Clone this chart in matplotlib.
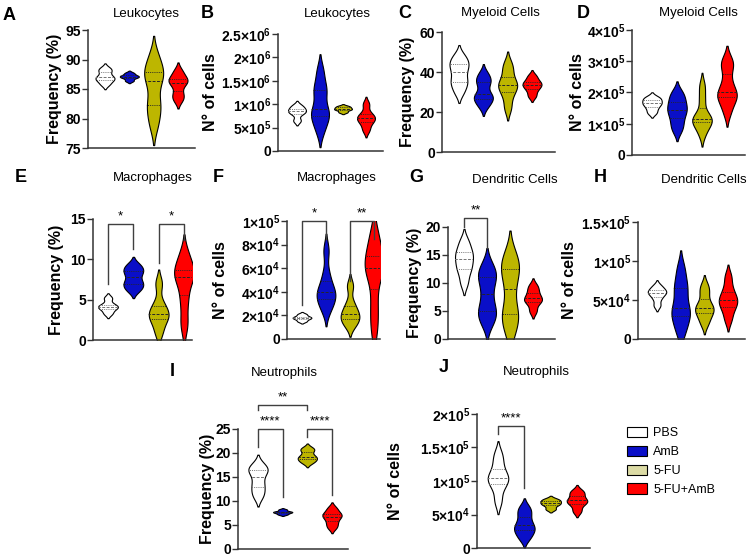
import numpy as np
import matplotlib
matplotlib.use("Agg")
import matplotlib.pyplot as plt
from matplotlib import mlab
from matplotlib.patches import Patch

plt.rcParams["font.family"] = ["Liberation Sans", "DejaVu Sans"]
plt.rcParams["mathtext.fontset"] = "custom"
plt.rcParams["mathtext.rm"] = "Liberation Sans:bold"
plt.rcParams["mathtext.default"] = "rm"

groups = ["PBS", "AmB", "5-FU", "5-FU+AmB"]
violin_colors = ["white", "#0A0FC8", "#BDB600", "#FF0000"]
legend_colors = ["white", "#0A0FC8", "#DCDBA5", "#FF0000"]

# values per group: PBS, AmB, 5-FU, 5-FU+AmB
leuk_freq = [
    [85.8, 86.5, 86.8, 87.2, 88.0, 88.5],
    [86.4, 86.9, 87.1, 87.3, 87.7],
    [79.0, 81.5, 83.0, 86.3, 87.5, 88.3, 90.5],
    [83.2, 84.2, 85.8, 86.4, 86.8, 88.0],
]
leuk_num = [
    [0.65e6, 0.8e6, 0.85e6, 0.9e6, 0.97e6],
    [0.45e6, 0.7e6, 0.8e6, 0.9e6, 1.25e6, 1.35e6, 1.7e6],
    [0.83e6, 0.88e6, 0.9e6, 0.93e6, 0.96e6],
    [0.45e6, 0.6e6, 0.68e6, 0.72e6, 0.8e6, 1.0e6],
]
myel_freq = [
    [30, 34, 36, 40, 43, 45, 48],
    [23, 26, 27.5, 29, 34, 36, 39],
    [22, 28, 32, 33.5, 35, 40, 44],
    [28, 31, 33, 34, 35.5, 38],
]
myel_num = [
    [1.35e5, 1.5e5, 1.62e5, 1.68e5, 1.78e5, 1.85e5],
    [0.8e5, 1.05e5, 1.3e5, 1.45e5, 1.6e5, 1.8e5, 2.0e5],
    [0.7e5, 1.0e5, 1.1e5, 1.15e5, 1.25e5, 1.75e5, 2.2e5],
    [1.4e5, 1.8e5, 1.9e5, 2.0e5, 2.35e5, 2.85e5, 3.0e5],
]
mac_freq = [
    [3.3, 3.9, 4.1, 4.4, 5.2],
    [6.2, 6.8, 7.3, 8.2, 8.7, 9.3],
    [1.0, 2.5, 3.0, 3.5, 4.5, 7.0],
    [2.0, 5.0, 7.5, 8.2, 8.8, 10.5],
]
mac_num = [
    [1.5e4, 1.7e4, 1.8e4, 1.9e4, 2.1e4],
    [2.5e4, 3.2e4, 3.6e4, 4.0e4, 4.4e4, 5.5e4, 7.5e4],
    [1.2e4, 1.6e4, 2.0e4, 2.3e4, 3.0e4, 4.5e4],
    [1.0e4, 3.0e4, 5.5e4, 6.0e4, 6.5e4, 7.5e4, 8.8e4],
]
dc_freq = [
    [10, 12, 13, 14.2, 15, 16, 17.5],
    [3, 4.5, 5.5, 8, 10.5, 11.5, 13],
    [1.5, 4, 5, 9, 12, 13, 15],
    [5, 6.5, 7, 7.5, 8.5, 9.5],
]
dc_num = [
    [4.3e4, 5.2e4, 5.8e4, 6.0e4, 6.3e4, 6.8e4],
    [1.0e4, 2.5e4, 3.5e4, 4.0e4, 6.0e4, 7.0e4, 9.0e4],
    [2.0e4, 3.0e4, 3.6e4, 4.0e4, 4.5e4, 5.8e4, 6.8e4],
    [2.5e4, 3.8e4, 4.5e4, 5.0e4, 5.5e4, 6.5e4, 8.0e4],
]
neu_freq = [
    [11, 12.5, 14, 16, 16.5, 17.5],
    [7.2, 7.5, 7.7, 7.8, 8.2],
    [18, 18.6, 19, 19.5, 20.5, 21],
    [4.5, 5.5, 6.5, 7, 7.5, 8.5],
]
neu_num = [
    [0.7e5, 0.9e5, 1.0e5, 1.05e5, 1.1e5, 1.25e5, 1.4e5],
    [0.15e5, 0.25e5, 0.3e5, 0.38e5, 0.5e5, 0.6e5],
    [0.58e5, 0.64e5, 0.67e5, 0.7e5, 0.73e5],
    [0.55e5, 0.65e5, 0.7e5, 0.72e5, 0.8e5, 0.85e5],
]

# significance: (group i, group j, bar height, left leg end, right leg end, label)
mac_freq_sig = [(0, 1, 14.4, 7.0, 11.3, "*"), (2, 3, 14.4, 9.5, 12.4, "*")]
mac_num_sig = [(0, 1, 1.0e5, 2.9e4, 8.5e4, "*"), (2, 3, 1.0e5, 4.9e4, 8.5e4, "**")]
dc_freq_sig = [(0, 1, 21.6, 20.0, 16.2, "**")]
neu_freq_sig = [(0, 1, 25, 21.3, 10.8, "****"), (2, 3, 25, 23.3, 11.2, "****"),
                (0, 2, 30, 29, 29, "**")]
neu_num_sig = [(0, 1, 1.82e5, 1.7e5, 0.9e5, "****")]


def sci(v):
    if v == 0:
        return "0"
    e = int(np.floor(np.log10(v)))
    m = v / 10 ** e
    return "%g×10$^{%d}$" % (m, e)


def make_ax(fig, left, right, top, bottom, c0, c3):
    W, H = 750.0, 559.0
    ax = fig.add_axes([left / W, 1 - bottom / H, (right - left) / W, (bottom - top) / H])
    u = (c3 - c0) / 3.0
    ax.set_xlim((left - c0) / u, (right - c0) / u)
    return ax


def draw_panel(ax, data, ticks, ylabel, title, letter, sci_ticks, title_xy, letter_xy, label_px, left, right):
    for i, d in enumerate(data):
        d = np.asarray(d, dtype=float)
        kde = mlab.GaussianKDE(d, bw_method=0.45)
        sig = float(np.sqrt(np.ravel(kde.covariance)[0]))
        coords = np.linspace(d.min() - 1.9 * sig, d.max() + 1.9 * sig, 200)
        vals = kde.evaluate(coords)
        st = dict(coords=coords, vals=vals, mean=d.mean(), median=np.median(d),
                  min=d.min(), max=d.max(), quantiles=[])
        parts = ax.violin([st], positions=[i], widths=0.78, showmeans=False,
                          showextrema=False, showmedians=False)
        body = parts["bodies"][0]
        body.set_facecolor(violin_colors[i])
        body.set_edgecolor("black")
        body.set_linewidth(0.8)
        body.set_alpha(1)
        q1, med, q3 = np.percentile(d, [25, 50, 75])
        lc = "0.45" if i == 0 else "0.15"
        path = body.get_paths()[0]
        for y, ls in ((med, (0, (3, 1.5))), (q1, (0, (1, 1.2))), (q3, (0, (1, 1.2)))):
            ln, = ax.plot([i - 0.6, i + 0.6], [y, y], color=lc, lw=0.7, linestyle=ls)
            ln.set_clip_path(path, body.get_transform())
    ax.set_ylim(ticks[0], ticks[-1])
    ax.set_yticks(ticks)
    if sci_ticks:
        ax.set_yticklabels([sci(t) for t in ticks])
    else:
        ax.set_yticklabels(["%g" % t for t in ticks])
    for lab in ax.get_yticklabels():
        lab.set_fontweight("bold")
    ax.tick_params(axis="y", labelsize=10, length=4, width=1, pad=1, color="0.2")
    ax.set_xticks([])
    for s in ("top", "right"):
        ax.spines[s].set_visible(False)
    for s in ("left", "bottom"):
        ax.spines[s].set_linewidth(1.1)
        ax.spines[s].set_color("0.2")
    ax.set_ylabel(ylabel, fontsize=11.5, fontweight="bold", va="center")
    ax.yaxis.set_label_coords((label_px - left) / (right - left), 0.5)
    fig = ax.figure
    fig.text(title_xy[0] / 750, 1 - title_xy[1] / 559, title, ha="center", va="center", fontsize=9.5)
    fig.text(letter_xy[0] / 750, 1 - letter_xy[1] / 559, letter, ha="center", va="center",
             fontsize=13, fontweight="bold")


def draw_sig(ax, sigs):
    for i, j, y, yl, yr, lab in sigs:
        ax.plot([i, i, j, j], [yl, y, y, yr], color="0.25", lw=1, clip_on=False)
        ax.annotate(lab, ((i + j) / 2, y), xytext=(0, 1), textcoords="offset points",
                    ha="center", va="bottom", fontsize=9.5, annotation_clip=False)


fig = plt.figure(figsize=(7.5, 5.59), dpi=100)

freq = "Frequency (%)"
ncell = "N° of cells"

# (data, ticks, ylabel, title, letter, sci, rect(l, r, top, bottom), centers, title_xy, letter_xy, label_px, sig)
panels = [
    (leuk_freq, [75, 80, 85, 90, 95], freq, "Leukocytes", "A", False, (88, 195, 30, 148), (105, 178), (146, 14), (9, 15), 54, None),
    (leuk_num, [0, 5e5, 1e6, 1.5e6, 2e6, 2.5e6], ncell, "Leukocytes", "B", True, (278, 383, 34, 151), (297, 366), (337, 14), (207, 13), 210, None),
    (myel_freq, [0, 20, 40, 60], freq, "Myeloid Cells", "C", False, (442, 555, 32, 152), (459, 532), (500, 13), (405, 13), 407, None),
    (myel_num, [0, 1e5, 2e5, 3e5, 4e5], ncell, "Myeloid Cells", "D", True, (632, 745, 30, 155), (652, 727), (698, 13), (583, 13), 578, None),
    (mac_freq, [0, 5, 10, 15], freq, "Macrophages", "E", False, (93, 192, 219, 340), (108, 184), (153, 178), (21, 177), 56, mac_freq_sig),
    (mac_num, [0, 2e4, 4e4, 6e4, 8e4, 1e5], ncell, "Macrophages", "F", True, (287, 380, 221, 339), (302, 374), (337, 178), (218, 178), 220, mac_num_sig),
    (dc_freq, [0, 5, 10, 15, 20], freq, "Dendritic Cells", "G", False, (448, 555, 227, 339), (464, 533), (515, 180), (416, 178), 414, dc_freq_sig),
    (dc_num, [0, 5e4, 1e5, 1.5e5], ncell, "Dendritic Cells", "H", True, (638, 745, 222, 339), (657, 728), (704, 180), (600, 178), 570, None),
    (neu_freq, [0, 5, 10, 15, 20, 25], freq, "Neutrophils", "I", False, (238, 348, 429, 549), (258, 332), (284, 373), (172, 372), 207, neu_freq_sig),
    (neu_num, [0, 5e4, 1e5, 1.5e5, 2e5], ncell, "Neutrophils", "J", True, (477, 590, 414, 548), (498, 577), (536, 372), (444, 368), 395, neu_num_sig),
]

for data, ticks, ylab, title, letter, sc, rect, cen, txy, lxy, lpx, sig in panels:
    l, r, t, b = rect
    ax = make_ax(fig, l, r, t, b, cen[0], cen[1])
    draw_panel(ax, data, ticks, ylab, title, letter, sc, txy, lxy, lpx, l, r)
    if sig:
        draw_sig(ax, sig)

handles = [Patch(facecolor=c, edgecolor="black", linewidth=0.8) for c in legend_colors]
fig.legend(handles, groups, loc="upper left", bbox_to_anchor=(622 / 750, 1 - 422 / 559),
           frameon=False, fontsize=9, handlelength=1.6, handleheight=0.9,
           labelspacing=0.5, handletextpad=0.5, borderaxespad=0)

fig.savefig("out.png", dpi=100)
